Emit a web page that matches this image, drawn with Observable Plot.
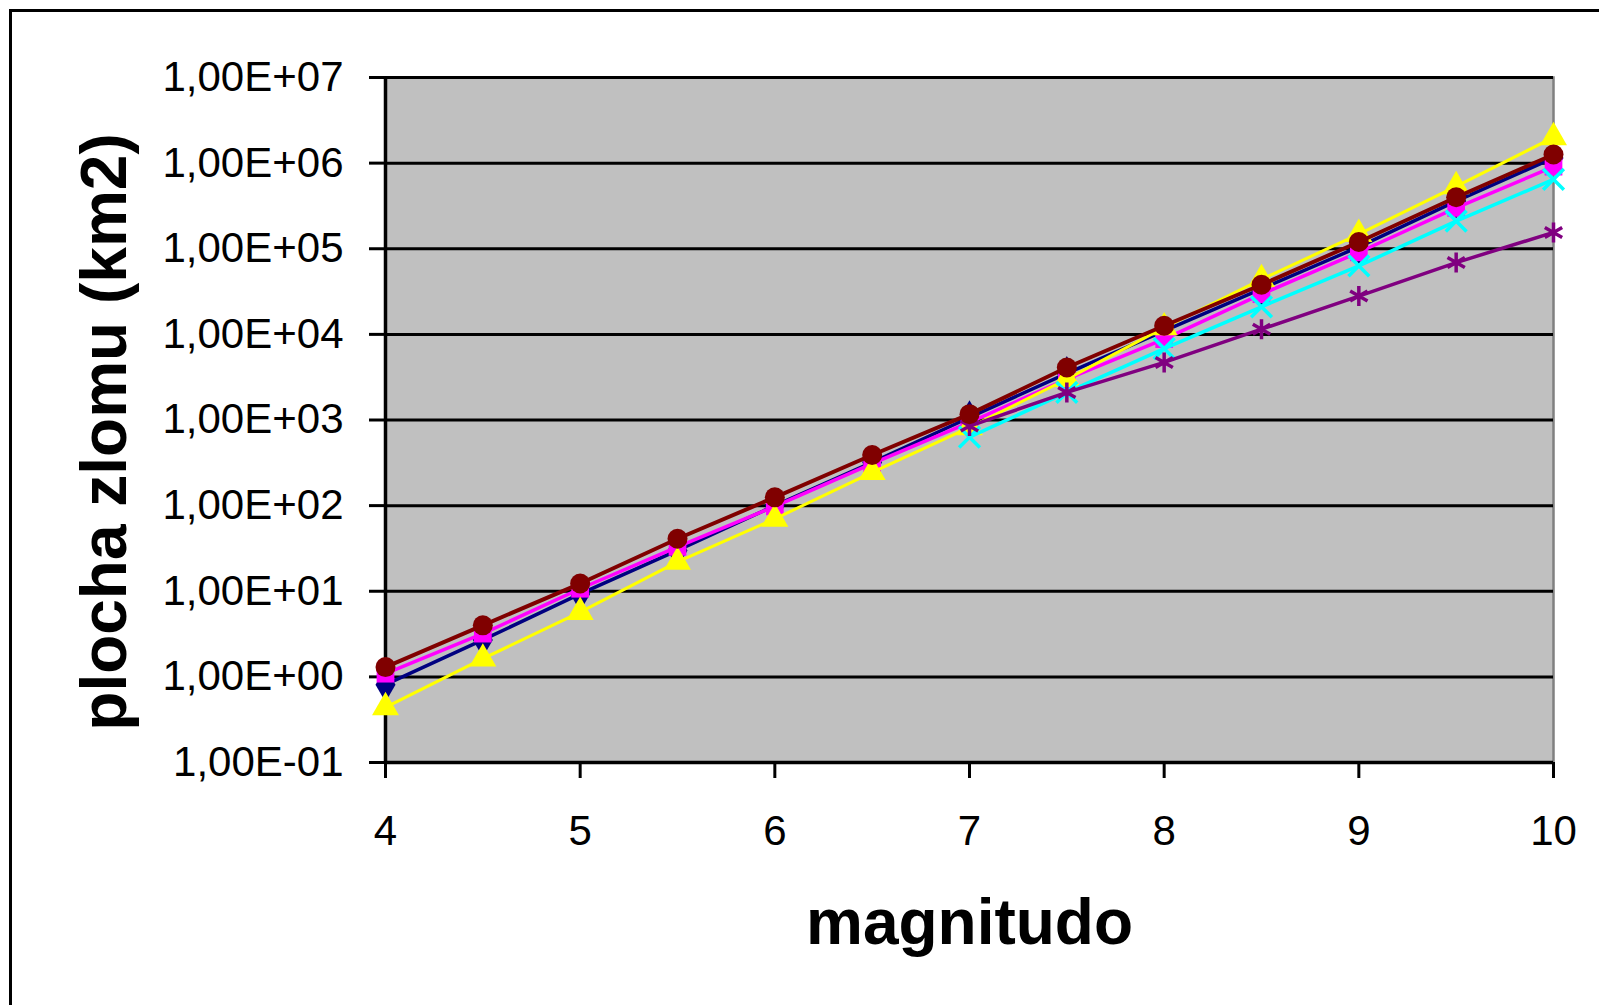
<!DOCTYPE html>
<html>
<head>
<meta charset="utf-8">
<script src="https://cdn.jsdelivr.net/npm/d3@7"></script>
<script src="https://cdn.jsdelivr.net/npm/@observablehq/plot@0.6"></script>
<style>
  html, body { margin: 0; padding: 0; background: #fff; overflow: hidden; width: 1599px; height: 1005px; }
  #frame { position: absolute; left: 9px; top: 9px; width: 1700px; height: 1100px; border: 3px solid #000; box-sizing: border-box; }
  #chart { position: absolute; left: 0; top: 0; }
  #chart svg { font-family: "Liberation Sans", Arial, sans-serif; color: #000; background: transparent; }
</style>
</head>
<body>
<div id="frame"></div>
<div id="chart"></div>
<script>
// Magnitudes (x categories)
const magnitudes = [4, 4.5, 5, 5.5, 6, 6.5, 7, 7.5, 8, 8.5, 9, 9.5, 10];

// Series values: fault area (km2)
const navyDiamond   = [0.81, 2.7, 9.3, 30, 100, 320, 1070, 3500, 11000, 34000, 105000, 360000, 1150000];
const magentaSquare = [1.09, 3.2, 10.7, 33, 98, 310, 940, 3000, 8800, 29500, 91000, 300000, 910000];
const yellowTriangle= [0.44, 1.63, 5.7, 22, 70, 245, 820, 3000, 12000, 44000, 148000, 535000, 2000000];
const cyanTimes     = [null, null, null, null, null, null, 630, 2100, 6800, 21000, 63000, 210000, 645000];
const purpleStar    = [null, null, null, null, null, null, 850, 2100, 4700, 11500, 28000, 69000, 155000];
const maroonCircle  = [1.3, 4.0, 12.3, 41, 125, 390, 1170, 4100, 12600, 38000, 120000, 400000, 1260000];

// Tick values
const xTicks = [4, 5, 6, 7, 8, 9, 10];
const yTicks = [1e-1, 1e0, 1e1, 1e2, 1e3, 1e4, 1e5, 1e6, 1e7];

const xTitle = "magnitudo";
const yTitle = "plocha zlomu (km2)";

const seriesDefs = [
  {name: "s1", values: navyDiamond,    color: "#000080", symbol: "diamond",  filled: true,  r: 10.5, w: 3.5},
  {name: "s2", values: magentaSquare,  color: "#FF00FF", symbol: "square",   filled: true,  r: 10,   w: 3.5},
  {name: "s3", values: yellowTriangle, color: "#FFFF00", symbol: "triangle", filled: true,  r: 10,   w: 3},
  {name: "s4", values: cyanTimes,      color: "#00FFFF", symbol: "times",    filled: false, r: 9.5,  w: 3.5},
  {name: "s5", values: purpleStar,     color: "#800080", symbol: "asterisk", filled: false, r: 9.5,  w: 3.5},
  {name: "s6", values: maroonCircle,   color: "#800000", symbol: "circle",   filled: true,  r: 10,   w: 4}
];

function toRows(values) {
  return magnitudes.map((m, i) => ({m, a: values[i]})).filter(d => d.a != null);
}

function fmtE(d) {
  const e = Math.round(Math.log10(d));
  return "1,00E" + (e < 0 ? "-" : "+") + String(Math.abs(e)).padStart(2, "0");
}

const marks = [
  Plot.frame({fill: "#C0C0C0", stroke: "#808080", strokeWidth: 2.5}),
  Plot.ruleY(yTicks, {stroke: "#000", strokeWidth: 3}),
  Plot.ruleX([4], {stroke: "#000", strokeWidth: 3.5}),
  Plot.ruleY([1e-1], {stroke: "#000", strokeWidth: 3.5}),
  Plot.axisX({ticks: xTicks, tickSize: 16, tickPadding: 37, fontSize: 42, strokeWidth: 3, label: null, tickFormat: d => String(d)}),
  Plot.axisY({ticks: yTicks, tickSize: 16, tickPadding: 26, fontSize: 42, strokeWidth: 3, label: null, tickFormat: fmtE})
];

for (const s of seriesDefs) {
  const rows = toRows(s.values);
  marks.push(Plot.line(rows, {x: "m", y: "a", stroke: s.color, strokeWidth: s.w}));
  if (s.filled) {
    marks.push(Plot.dot(rows, {x: "m", y: "a", symbol: s.symbol, r: s.r, fill: s.color, stroke: "none"}));
  } else {
    marks.push(Plot.dot(rows, {x: "m", y: "a", symbol: s.symbol, r: s.r, stroke: s.color, strokeWidth: 3.5, fill: "none"}));
  }
}

marks.push(Plot.text([xTitle], {frameAnchor: "bottom", dy: 161, lineAnchor: "middle", textAnchor: "middle", fontSize: 64, fontWeight: "bold"}));
marks.push(Plot.text([yTitle], {frameAnchor: "left", dx: -280, dy: 12, rotate: -90, lineAnchor: "middle", textAnchor: "middle", fontSize: 64, fontWeight: "bold"}));

const chart = Plot.plot({
  width: 1599,
  height: 1005,
  marginLeft: 385,
  marginRight: 46,
  marginTop: 77,
  marginBottom: 243,
  style: {background: "transparent", color: "#000", fontFamily: "'Liberation Sans', Arial, sans-serif"},
  x: {domain: [4, 10], axis: null},
  y: {type: "log", domain: [1e-1, 1e7], axis: null},
  marks
});
document.getElementById("chart").appendChild(chart);
</script>
</body>
</html>
